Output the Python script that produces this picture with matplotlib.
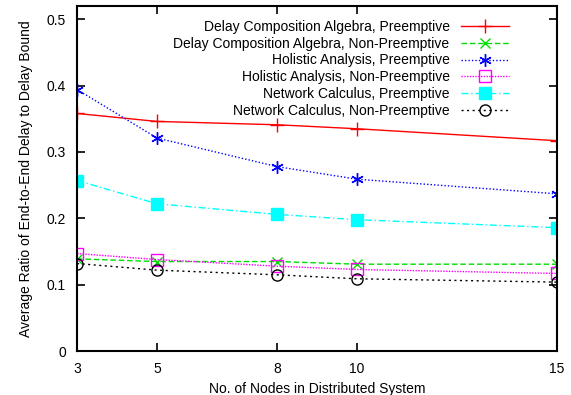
import matplotlib
matplotlib.use('Agg')
from matplotlib import pyplot as plt

nodes = [3, 5, 8, 10, 15]

dca_pre = [0.358, 0.346, 0.341, 0.335, 0.317]
dca_np = [0.139, 0.135, 0.135, 0.131, 0.131]
ha_pre = [0.394, 0.321, 0.278, 0.259, 0.237]
ha_np = [0.147, 0.138, 0.128, 0.123, 0.117]
nc_pre = [0.257, 0.222, 0.206, 0.198, 0.186]
nc_np = [0.132, 0.122, 0.115, 0.109, 0.104]

labels = ['Delay Composition Algebra, Preemptive',
          'Delay Composition Algebra, Non-Preemptive',
          'Holistic Analysis, Preemptive',
          'Holistic Analysis, Non-Preemptive',
          'Network Calculus, Preemptive',
          'Network Calculus, Non-Preemptive']

plt.rcParams['font.family'] = ['Liberation Sans', 'DejaVu Sans']
plt.rcParams['font.size'] = 10

fig = plt.figure(figsize=(5.71, 3.95), dpi=100)
ax = fig.add_axes([0.135, 0.111, 0.84, 0.874])

ax.plot(nodes, dca_pre, color='red', linestyle='-', lw=1, marker='+', ms=10, mew=1, label=labels[0])
ax.plot(nodes, dca_np, color='#00dd00', linestyle=(0, (4, 2)), lw=1, marker='x', ms=7, mew=1, label=labels[1])
ax.plot(nodes, ha_pre, color='blue', linestyle=(0, (1, 1.5)), lw=1, marker=(6, 2, 0), ms=9, mew=1, label=labels[2])
ax.plot(nodes, ha_np, color='magenta', linestyle=(0, (1, 1)), lw=1, marker='s', ms=8, mfc='none', mew=1, label=labels[3])
ax.plot(nodes, nc_pre, color='cyan', linestyle=(0, (5, 2, 1, 2)), lw=1, marker='s', ms=8, label=labels[4])
ax.plot(nodes, nc_np, color='black', linestyle=(0, (1.5, 2.5)), lw=1, marker='o', ms=8, mfc='none', mew=1, label=labels[5])

ax.set_xlim(3, 15)
ax.set_ylim(0, 0.52)
ax.set_xticks(nodes)
ax.set_yticks([0, 0.1, 0.2, 0.3, 0.4, 0.5])
ax.set_yticklabels(['0', '0.1', '0.2', '0.3', '0.4', '0.5'])
ax.tick_params(direction='in', top=True, right=True, length=6, width=1.2)
ax.tick_params(axis='y', pad=8)
ax.tick_params(axis='x', pad=8)
for s in ax.spines.values():
    s.set_linewidth(1.5)

ax.set_xlabel('No. of Nodes in Distributed System', labelpad=4)
ax.set_ylabel('Average Ratio of End-to-End Delay to Delay Bound', labelpad=10)

ax.legend(loc='upper right', frameon=False, markerfirst=False, handlelength=3.5,
          labelspacing=0.2, borderaxespad=0.6, bbox_to_anchor=(0.93, 1.0))

fig.savefig('out.png', dpi=100)
